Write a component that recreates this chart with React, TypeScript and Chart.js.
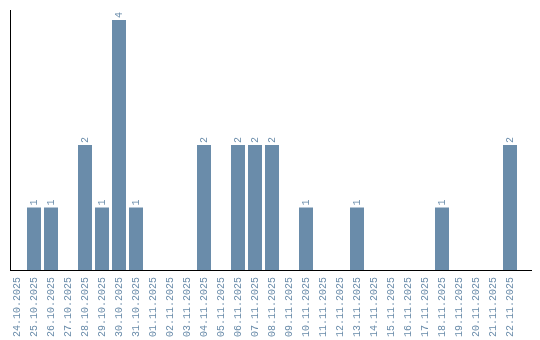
import React, { useEffect, useRef } from "react";
import { Chart, registerables } from "chart.js";

Chart.register(...registerables);

const dates: string[] = [
  "24.10.2025", "25.10.2025", "26.10.2025", "27.10.2025", "28.10.2025",
  "29.10.2025", "30.10.2025", "31.10.2025", "01.11.2025", "02.11.2025",
  "03.11.2025", "04.11.2025", "05.11.2025", "06.11.2025", "07.11.2025",
  "08.11.2025", "09.11.2025", "10.11.2025", "11.11.2025", "12.11.2025",
  "13.11.2025", "14.11.2025", "15.11.2025", "16.11.2025", "17.11.2025",
  "18.11.2025", "19.11.2025", "20.11.2025", "21.11.2025", "22.11.2025",
];

const counts: number[] = [
  0, 1, 1, 0, 2,
  1, 4, 1, 0, 0,
  0, 2, 0, 2, 2,
  2, 0, 1, 0, 0,
  1, 0, 0, 0, 0,
  1, 0, 0, 0, 2,
];

const BAR_COLOR = "#6a8caa";
const TEXT_COLOR = "#6a8caa";
const FONT_FAMILY = "'Liberation Mono', monospace";

const valueLabels = {
  id: "valueLabels",
  afterDatasetsDraw(chart: any) {
    const ctx = chart.ctx;
    const meta = chart.getDatasetMeta(0);
    ctx.save();
    ctx.fillStyle = TEXT_COLOR;
    ctx.font = `10px ${FONT_FAMILY}`;
    ctx.textAlign = "left";
    ctx.textBaseline = "middle";
    meta.data.forEach((el: any, i: number) => {
      const v = counts[i];
      if (!v) return;
      ctx.save();
      ctx.translate(el.x, el.y - 2);
      ctx.rotate(-Math.PI / 2);
      ctx.fillText(String(v), 0, 0);
      ctx.restore();
    });
    ctx.restore();
  },
};

export default function App() {
  const ref = useRef<HTMLCanvasElement | null>(null);

  useEffect(() => {
    if (!ref.current) return;
    const chart = new Chart(ref.current, {
      type: "bar",
      data: {
        datasets: [
          {
            data: counts.map((v, i) => ({ x: i, y: v })),
            backgroundColor: BAR_COLOR,
            borderWidth: 0,
            barPercentage: 14 / 17,
            categoryPercentage: 1,
          },
        ],
      },
      options: {
        animation: false,
        responsive: false,
        maintainAspectRatio: false,
        layout: { padding: { left: 10, top: 10, right: 9, bottom: 0 } },
        plugins: {
          legend: { display: false },
          tooltip: { enabled: false },
        },
        scales: {
          x: {
            type: "linear",
            min: -7 / 17,
            max: 514 / 17,
            offset: false,
            grid: { display: false, drawTicks: false },
            border: { display: true, color: "#000", width: 1 },
            afterBuildTicks: (axis: any) => {
              axis.ticks = dates.map((_, i) => ({ value: i }));
            },
            afterFit: (axis: any) => {
              axis.height = 70;
            },
            ticks: {
              autoSkip: false,
              minRotation: 90,
              maxRotation: 90,
              padding: 7,
              color: TEXT_COLOR,
              font: { family: FONT_FAMILY, size: 10 },
              callback: (value: any) => dates[value as number] ?? null,
            },
          },
          y: {
            min: 0,
            max: 4.16,
            grid: { display: false, drawTicks: false },
            border: { display: true, color: "#000", width: 1 },
            ticks: { display: false },
            afterFit: (axis: any) => {
              axis.width = 0;
            },
          },
        },
      },
      plugins: [valueLabels],
    });
    return () => chart.destroy();
  }, []);

  return (
    <div style={{ position: "fixed", left: 0, top: 0, width: 540, height: 340, background: "#fff" }}>
      <canvas ref={ref} width={540} height={340} style={{ width: 540, height: 340, display: "block" }} />
    </div>
  );
}
